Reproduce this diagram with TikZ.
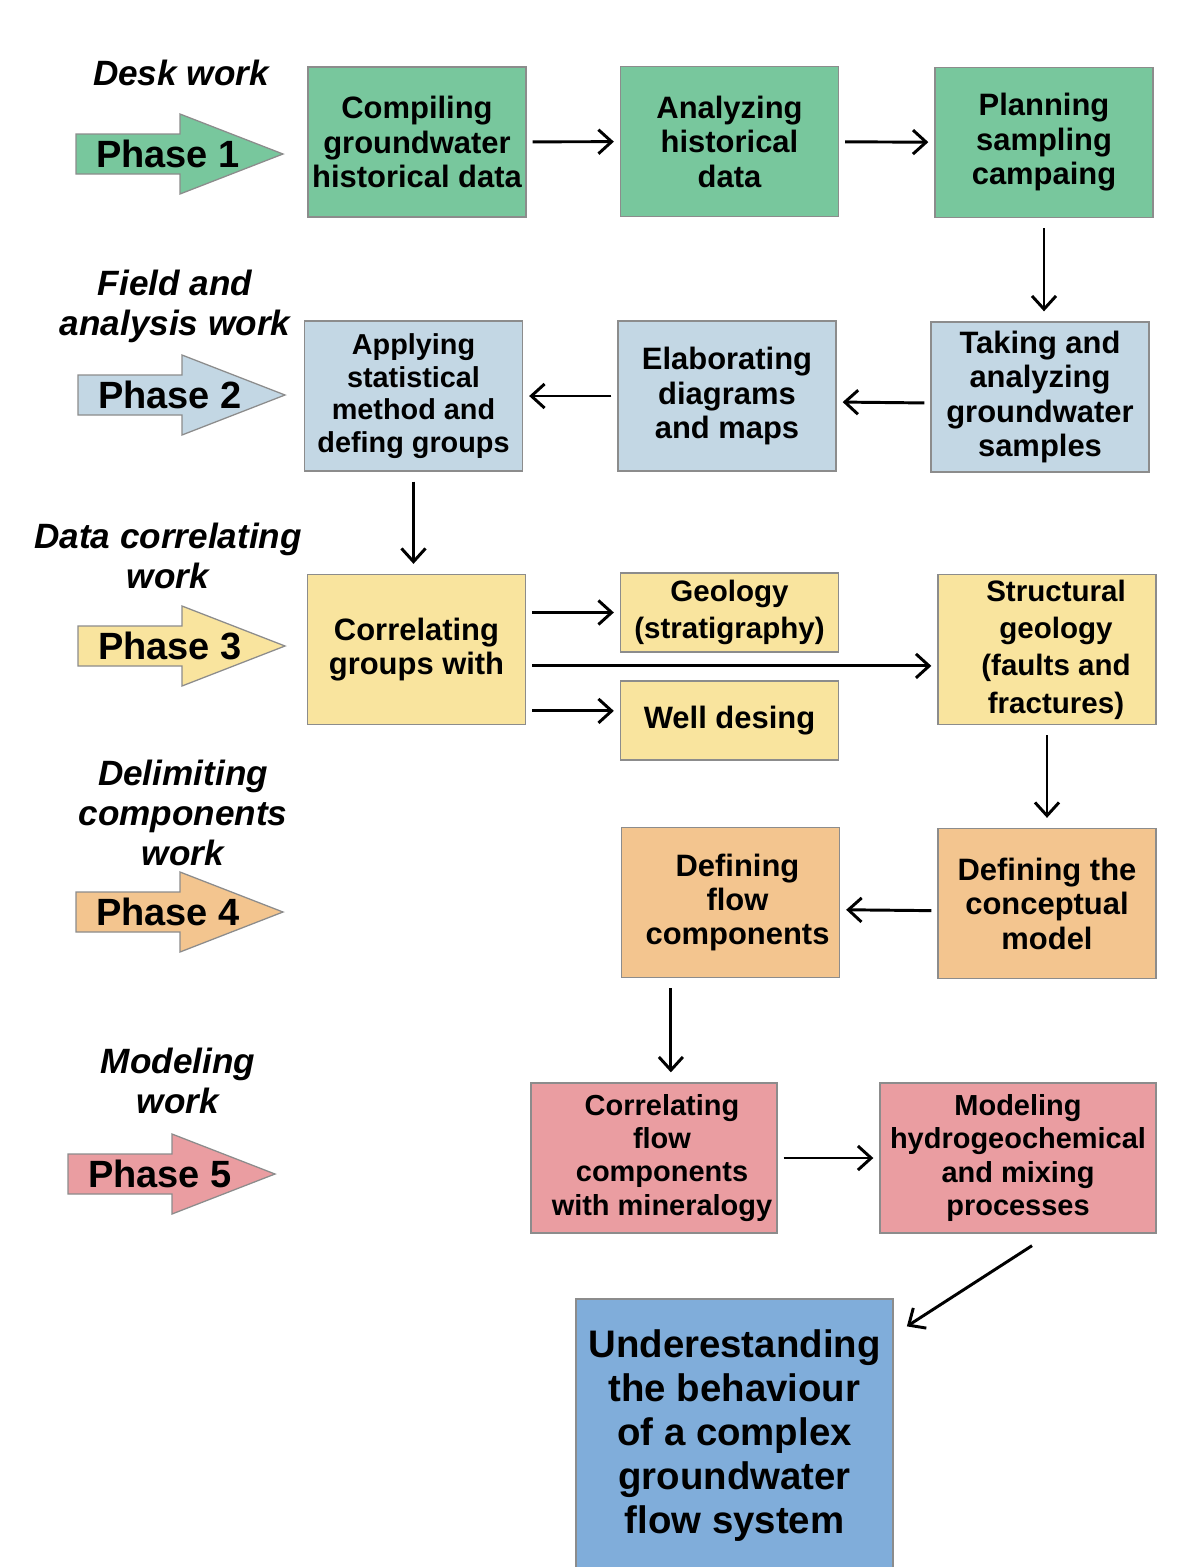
\documentclass[tikz,border=0pt]{standalone}
\usepackage{fontspec}
\setmainfont{Liberation Sans}
\usetikzlibrary{arrows.meta}

\definecolor{deskgreen}{HTML}{78C79D}
\definecolor{fieldblue}{HTML}{C3D7E4}
\definecolor{datayellow}{HTML}{F9E49E}
\definecolor{delimorange}{HTML}{F3C58F}
\definecolor{modelpink}{HTML}{EA9DA1}
\definecolor{finalblue}{HTML}{80ADDA}

\tikzset{
	box/.style={draw=gray!90, line width=0.9pt, align=center, inner sep=0pt,
		minimum width=5.45cm, minimum height=3.75cm,
		font=\fontsize{22}{24.5}\selectfont\bfseries},
	smallbox/.style={box, minimum height=1.975cm},
	phase/.style={draw=gray!90, line width=0.9pt},
	phasetext/.style={inner sep=0pt, font=\fontsize{27}{30}\selectfont\bfseries},
	worklabel/.style={align=center, inner sep=0pt, font=\fontsize{25}{28.5}\selectfont\bfseries\itshape},
	conn/.style={line width=2.1pt, -{Straight Barb[length=0.33cm, width=0.6cm]},
		shorten <=0.15cm, shorten >=0.15cm},
	vconn/.style={conn, shorten <=0.25cm, shorten >=0.25cm},
}

\def\xscale{0.025}
\def\yscale{-0.025}

\begin{document}
\begin{tikzpicture}[x=\xscale cm, y=\yscale cm]
	\fill[white] (0,0) rectangle (1179,1567);
	\useasboundingbox (0,0) rectangle (1179,1567);
	
	% phase arrows on the left
	\foreach \n/\xl/\yc/\col in {1/76/154/deskgreen, 2/78/395/fieldblue, 3/78/646/datayellow, 4/76/912/delimorange, 5/68/1174/modelpink}{
		\draw[phase, fill=\col] (\xl,\yc-20) -- ++(104,0) -- ++(0,-20) -- ++(103,40) -- ++(-103,40) -- ++(0,-20) -- ++(-104,0) -- cycle;
		\node[phasetext] (ph\n) at (\xl+92,\yc) {Phase \n};
	}
	
	\node[worklabel] (lab1) at (181,73) {Desk work};
	\node[worklabel] (lab2) at (175,306) {Field and\\analysis work};
	\node[worklabel] (lab3) at (168,556) {Data correlating\\work};
	\node[worklabel] (lab4) at (183,813) {Delimiting\\components\\work};
	\node[worklabel] (lab5) at (178,1081) {Modeling\\work};
	
	% desk work
	\node[box, fill=deskgreen] (b11) at (417,142) {Compiling\\groundwater\\historical data};
	\node[box, fill=deskgreen] (b12) at (729.5,141.5) {Analyzing\\historical\\data};
	\node[box, fill=deskgreen] (b13) at (1044,142.5) {Planning\\sampling\\campaing};
	
	% field and analysis work
	\node[box, fill=fieldblue, font=\fontsize{20.5}{23.2}\selectfont\bfseries] (b21) at (413.5,396) {Applying\\statistical\\method and\\defing groups};
	\node[box, fill=fieldblue] (b22) at (727,396) {Elaborating\\diagrams\\and maps};
	\node[box, fill=fieldblue] (b23) at (1040,397) {Taking and\\analyzing\\groundwater\\samples};
	
	% data correlating work
	\node[box, fill=datayellow] (b31) at (416.5,649.5) {Correlating\\groups with};
	\node[smallbox, fill=datayellow, font=\fontsize{21}{26.5}\selectfont\bfseries] (b32) at (729.5,612.5) {Geology\\(stratigraphy)};
	\node[smallbox, fill=datayellow] (b33) at (729.5,720.5) {Well desing};
	\node[box, fill=datayellow, font=\fontsize{21}{26.5}\selectfont\bfseries] (b34) at (1047,649.5) {\hspace*{0.45cm}Structural\\\hspace*{0.45cm}geology\\\hspace*{0.45cm}(faults and\\\hspace*{0.45cm}fractures)};
	
	% delimiting components work
	\node[box, fill=delimorange] (b41) at (730.5,902.5) {\hspace*{0.35cm}Defining\\\hspace*{0.35cm}flow\\\hspace*{0.35cm}components};
	\node[box, fill=delimorange] (b42) at (1047,903.5) {Defining the\\conceptual\\model};
	
	% modeling work
	\node[box, fill=modelpink, minimum width=6.15cm, font=\fontsize{20.6}{23.5}\selectfont\bfseries] (b51) at (654,1158) {\hspace*{0.4cm}Correlating\\\hspace*{0.4cm}flow\\\hspace*{0.4cm}components\\\hspace*{0.4cm}with mineralogy};
	\node[box, fill=modelpink, minimum width=6.9cm, font=\fontsize{20.6}{23.5}\selectfont\bfseries] (b52) at (1018,1158) {Modeling\\hydrogeochemical\\and mixing\\processes};
	
	\node[box, fill=finalblue, minimum width=7.925cm, minimum height=6.825cm, font=\fontsize{27.3}{31.3}\selectfont\bfseries] (fin) at (734.5,1435.5) {Underestanding\\the behaviour\\of a complex\\groundwater\\flow system};
	
	% connectors
	\draw[conn] (b11) -- (b12);
	\draw[conn] (b12) -- (b13);
	\draw[vconn] (b13.south) -- (b13.south |- b23.north);
	\draw[conn] ([yshift=-0.15cm]b23.west) -- ([yshift=-0.15cm]b22.east);
	\draw[conn] (b22) -- (b21);
	\draw[vconn] (b21.south) -- (b21.south |- b31.north);
	
	\coordinate (w2) at (b32.west);
	\coordinate (w4) at ([yshift=-0.41cm]b34.west);
	\coordinate (w3) at ([yshift=0.24cm]b33.west);
	\draw[conn] (b31.east |- w2) -- (w2);
	\draw[conn] (b31.east |- w4) -- (w4);
	\draw[conn] (b31.east |- w3) -- (w3);
	
	\draw[vconn] (b34.south) -- (b34.south |- b42.north);
	\draw[conn] ([yshift=-0.18cm]b42.west) -- ([yshift=-0.18cm]b41.east);
	\draw[vconn] ([xshift=-1.49cm]b41.south) -- ([xshift=-1.49cm]b41.south |- b51.north);
	\draw[conn] (b51) -- (b52);
	
	\coordinate (fin tip) at ([xshift=0.33cm, yshift=-0.7cm]fin.north east);
	\draw[conn, shorten <=0pt, shorten >=0pt] ([xshift=0.35cm, yshift=-0.3cm]b52.south) -- (fin tip);
\end{tikzpicture}
\end{document}
